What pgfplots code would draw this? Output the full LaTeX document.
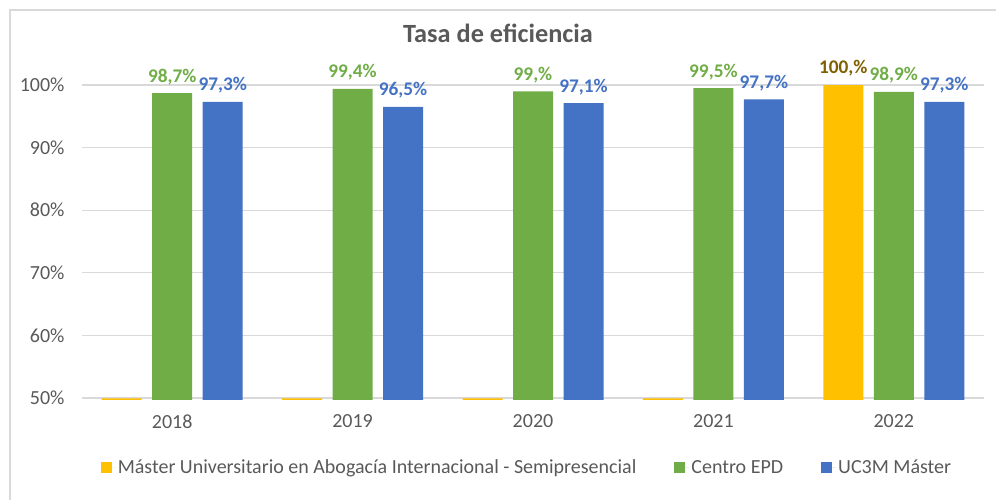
\documentclass[border=0pt]{standalone}
\usepackage{pgfplots}
\pgfplotsset{compat=1.18}
\usepackage{fontspec}
\setmainfont{Carlito}
\definecolor{cyel}{RGB}{255,192,0}
\definecolor{cgreen}{RGB}{112,173,71}
\definecolor{cblue}{RGB}{68,114,196}
\definecolor{cdkyel}{RGB}{127,96,0}
\definecolor{textgray}{RGB}{89,89,89}
\definecolor{gridgray}{RGB}{217,217,217}
\newcommand\LG[1]{\textcolor{cgreen}{#1\%}}
\newcommand\LB[1]{\textcolor{cblue}{#1\%}}
\newcommand\LY[1]{\textcolor{cdkyel}{#1\%}}
\begin{document}
\begin{tikzpicture}[x=1pt,y=1pt]
\useasboundingbox (0,0) rectangle (996,499);
\draw[color=gridgray, line width=1.5pt] (10,-20) -- (10,489) -- (1020,489);
\node[font=\bfseries\fontsize{26.3}{29}\selectfont, text=textgray] at (498,466) {Tasa de eficiencia};
\begin{axis}[
  at={(82pt,99.1pt)}, anchor=south west,
  scale only axis, width=902pt, height=346.18pt,
  xmin=-0.5, xmax=4.5, ymin=49.7, ymax=105,
  xtick={0,1,2,3,4}, xticklabels={2018,2019,2020,2021,2022},
  ytick={50,60,70,80,90,100}, yticklabels={50\%,60\%,70\%,80\%,90\%,100\%},
  ymajorgrids, grid style={color=gridgray, line width=1.2pt},
  axis line style={draw=none}, major tick length=0pt,
  tick label style={font=\fontsize{20}{22}\selectfont, text=textgray},
  yticklabel style={xshift=-14pt},
  xticklabel style={yshift=-11pt},
  ybar=10.5pt, bar width=40pt,
  nodes near coords, point meta=explicit symbolic,
  every node near coord/.append style={font=\bfseries\fontsize{19.3}{21}\selectfont, yshift=5pt},
  legend columns=3,
  legend cell align=left,
  legend image code/.code={\fill[#1,draw=none] (0pt,-5.5pt) rectangle (11pt,5.5pt); \path (0pt,0pt) -- (15pt,0pt);},
  legend style={draw=none, fill=none, at={(0.4933,-0.1953)}, anchor=center,
    font=\fontsize{20}{22}\selectfont, text=textgray,
    /tikz/every even column/.append style={column sep=36pt}},
]
\addplot[fill=cyel, draw=none] coordinates {(0,49.95) [{}] (1,49.95) [{}] (2,49.95) [{}] (3,49.95) [{}] (4,100) [\LY{100,}]};
\addlegendentry{Máster Universitario en Abogacía Internacional - Semipresencial}
\addplot[fill=cgreen, draw=none] coordinates {(0,98.7) [\LG{98,7}] (1,99.4) [\LG{99,4}] (2,99.0) [\LG{99,}] (3,99.5) [\LG{99,5}] (4,98.9) [\LG{98,9}]};
\addlegendentry{Centro EPD}
\addplot[fill=cblue, draw=none] coordinates {(0,97.3) [\LB{97,3}] (1,96.5) [\LB{96,5}] (2,97.1) [\LB{97,1}] (3,97.7) [\LB{97,7}] (4,97.3) [\LB{97,3}]};
\addlegendentry{UC3M Máster}
\end{axis}
\end{tikzpicture}
\end{document}
